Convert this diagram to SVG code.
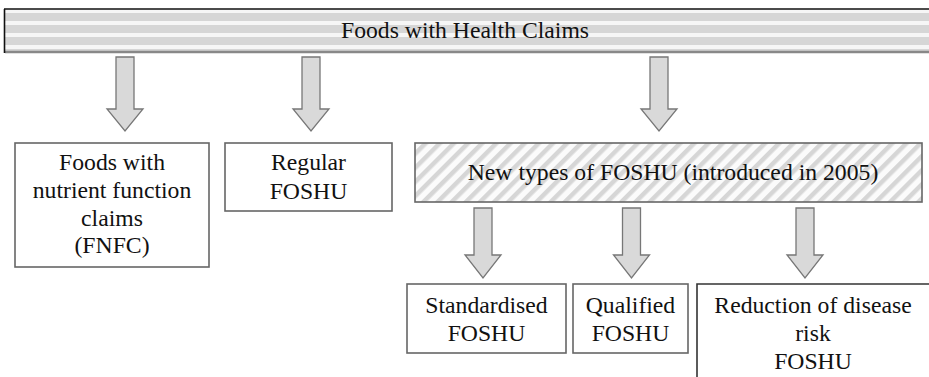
<svg xmlns="http://www.w3.org/2000/svg" width="929" height="377" viewBox="0 0 929 377" font-family="'Liberation Serif', 'Times New Roman', serif">
<style>
text{font-family:'Liberation Serif','Times New Roman',serif;font-size:23.7px;fill:#111;text-anchor:middle}
.box{fill:#fff;stroke:#666;stroke-width:1.6}
.arr{fill:#d9d9d9;stroke:#777;stroke-width:1.3;stroke-linejoin:miter}
</style>
<defs>
<pattern id="hstripe" width="12" height="12" patternUnits="userSpaceOnUse" y="9">
<rect width="12" height="12" fill="#f6f6f6"/>
<rect y="4" width="12" height="8" fill="#d6d6d6"/>
</pattern>
<pattern id="hatch" width="10" height="10" patternUnits="userSpaceOnUse" patternTransform="rotate(45)">
<rect width="10" height="10" fill="#fbfbfb"/>
<rect width="4.5" height="10" fill="#d6d6d6"/>
</pattern>
<path id="ar" class="arr" d="M-9,0 H9 V52 H18 L0,74 L-18,52 H-9 Z"/>
<path id="ar2" class="arr" d="M-9,0 H9 V47 H18 L0,70 L-18,47 H-9 Z"/>
</defs>
<g id="banner">
<rect x="5" y="9" width="930" height="43" fill="url(#hstripe)"/>
<line x1="5" y1="52" x2="929" y2="52" stroke="#888" stroke-width="2.5"/>
<line x1="4" y1="9" x2="929" y2="9" stroke="#111" stroke-width="1.6"/>
<line x1="4.5" y1="9" x2="4.5" y2="53" stroke="#111" stroke-width="1.6"/>
<text x="465" y="38">Foods with Health Claims</text>
</g>
<g id="connectors">
<use href="#ar" x="125" y="57"/>
<use href="#ar" x="311" y="57"/>
<use href="#ar" x="659" y="57"/>
<use href="#ar2" x="483" y="208"/>
<use href="#ar2" x="631.5" y="208"/>
<use href="#ar2" x="805" y="208"/>
</g>
<g id="fnfc">
<rect class="box" x="15" y="143" width="194" height="124"/>
<text x="112" y="170">Foods with</text>
<text x="112" y="198">nutrient function</text>
<text x="112" y="226">claims</text>
<text x="112" y="253">(FNFC)</text>
</g>
<g id="regular">
<rect class="box" x="225" y="143" width="167" height="68"/>
<text x="308.5" y="170">Regular</text>
<text x="308.5" y="199">FOSHU</text>
</g>
<g id="newtypes">
<rect x="415" y="143" width="507" height="59" fill="url(#hatch)" stroke="#666" stroke-width="1.6"/>
<text x="673" y="180">New types of FOSHU (introduced in 2005)</text>
</g>
<g id="standardised">
<rect class="box" x="407" y="284" width="159" height="69"/>
<text x="486.5" y="313">Standardised</text>
<text x="486.5" y="341">FOSHU</text>
</g>
<g id="qualified">
<rect class="box" x="573" y="284" width="115" height="69"/>
<text x="630.5" y="313">Qualified</text>
<text x="630.5" y="341">FOSHU</text>
</g>
<g id="reduction">
<path d="M697,377 V284 H929" fill="none" stroke="#333" stroke-width="1.6"/>
<text x="813" y="313">Reduction of disease</text>
<text x="813" y="341">risk</text>
<text x="813" y="369">FOSHU</text>
</g>
</svg>
